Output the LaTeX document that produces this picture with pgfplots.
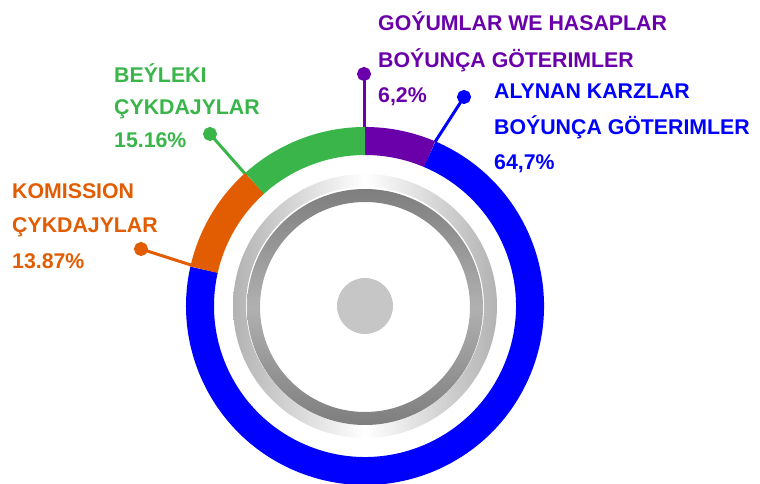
\documentclass[border=0pt]{standalone}
\usepackage{pgfplots}
\pgfplotsset{compat=1.18}
\usepackage{pgfplotstable}
\usepackage{fontspec}
\setmainfont{Liberation Sans}

\definecolor{cpurple}{HTML}{6A00AA}
\definecolor{cblue}{HTML}{0000FF}
\definecolor{corange}{HTML}{E25C02}
\definecolor{cgreen}{HTML}{39B54A}
\definecolor{gdark}{HTML}{7E7E7E}
\definecolor{glight}{HTML}{B0B0B0}

% ring shares as drawn (percent of the full circle), clockwise from the top
\pgfplotstableread{
name   share
purple 6.42
blue   72.11
orange 9.81
green  11.67
}\ringdata

\newcommand\lbl{\fontsize{21.3}{25}\selectfont\bfseries}

\begin{document}
\begin{tikzpicture}
\pgfplotstablegetelem{0}{share}\of\ringdata \pgfmathsetmacro\aA{90-3.6*\pgfplotsretval}
\pgfplotstablegetelem{1}{share}\of\ringdata \pgfmathsetmacro\aB{\aA-3.6*\pgfplotsretval}
\pgfplotstablegetelem{2}{share}\of\ringdata \pgfmathsetmacro\aC{\aB-3.6*\pgfplotsretval}
\pgfplotstablegetelem{3}{share}\of\ringdata \pgfmathsetmacro\aD{\aC-3.6*\pgfplotsretval}
\begin{axis}[
    name=ax,
    x=1pt, y=1pt,
    xmin=0, xmax=760, ymin=0, ymax=484,
    hide axis, clip=false,
]
% leader lines
\addplot[cpurple, line width=3pt, mark=*, mark indices={1}, mark size=5.5pt] coordinates {(364,410) (364,357)};
\addplot[cblue, line width=3pt, mark=*, mark indices={1}, mark size=5.5pt] coordinates {(464,387) (435,342)};
\addplot[cgreen, line width=3pt, mark=*, mark indices={1}, mark size=5.5pt] coordinates {(210,350) (247,308)};
\addplot[corange, line width=3pt, mark=*, mark indices={1}, mark size=5.5pt] coordinates {(141,235) (194,218)};

% donut segments
\draw[cpurple, line width=28pt] (axis cs:365,178) ++(90:165pt) arc[start angle=90, end angle=\aA, radius=165pt];
\draw[cblue, line width=28pt] (axis cs:365,178) ++(\aA:165pt) arc[start angle=\aA, end angle=\aB, radius=165pt];
\draw[corange, line width=28pt] (axis cs:365,178) ++(\aB:165pt) arc[start angle=\aB, end angle=\aC, radius=165pt];
\draw[cgreen, line width=28pt] (axis cs:365,178) ++(\aC:165pt) arc[start angle=\aC, end angle=\aD, radius=165pt];

% decorative inner rings
\shade[even odd rule, left color=gray!60, right color=gray!60, middle color=white]
  (axis cs:365,178) circle[radius=132pt] (axis cs:365,178) circle[radius=119pt];
\shade[even odd rule, top color=gdark, bottom color=gdark, middle color=glight]
  (axis cs:365,177) circle[radius=118pt] (axis cs:365,177) circle[radius=105pt];
\fill[gray!45] (axis cs:365,178) circle[radius=28pt];

% labels
\node[anchor=base west, inner sep=0, text=cpurple, font=\lbl] at (axis cs:378,453) {GOÝUMLAR WE HASAPLAR};
\node[anchor=base west, inner sep=0, text=cpurple, font=\lbl] at (axis cs:378,416) {BOÝUNÇA GÖTERIMLER};
\node[anchor=base west, inner sep=0, text=cpurple, font=\lbl] at (axis cs:378,381) {6,2\%};

\node[anchor=base west, inner sep=0, text=cblue, font=\lbl] at (axis cs:494,385) {ALYNAN KARZLAR};
\node[anchor=base west, inner sep=0, text=cblue, font=\lbl] at (axis cs:494,349) {BOÝUNÇA GÖTERIMLER};
\node[anchor=base west, inner sep=0, text=cblue, font=\lbl] at (axis cs:494,314) {64,7\%};

\node[anchor=base west, inner sep=0, text=cgreen, font=\lbl] at (axis cs:114,401) {BEÝLEKI};
\node[anchor=base west, inner sep=0, text=cgreen, font=\lbl] at (axis cs:114,369) {ÇYKDAJYLAR};
\node[anchor=base west, inner sep=0, text=cgreen, font=\lbl] at (axis cs:114,336) {15.16\%};

\node[anchor=base west, inner sep=0, text=corange, font=\lbl] at (axis cs:12,285) {KOMISSION};
\node[anchor=base west, inner sep=0, text=corange, font=\lbl] at (axis cs:12,251) {ÇYKDAJYLAR};
\node[anchor=base west, inner sep=0, text=corange, font=\lbl] at (axis cs:12,215) {13.87\%};
\end{axis}
\pgfresetboundingbox
\path (ax.south west) rectangle (ax.north east);
\end{tikzpicture}
\end{document}
